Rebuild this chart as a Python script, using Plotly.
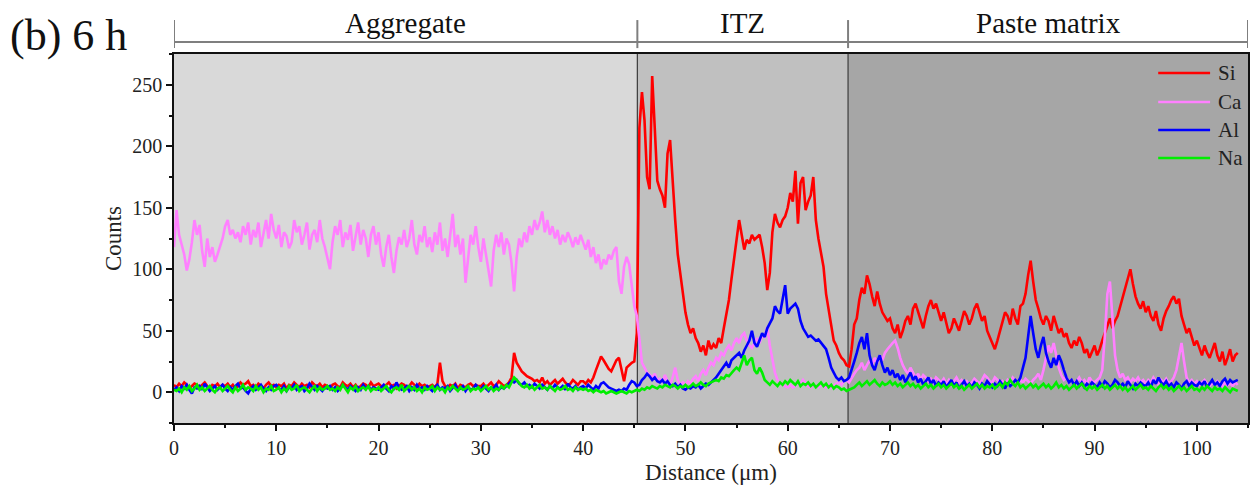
import plotly.graph_objects as go

# EDS line scan across aggregate / ITZ / paste, sampled every 0.25 um from 0 to 104 um
step_um = 0.25

si = [
    6, 4, 7, 5, 8, 6, 3, 5, 7, 6, 4, 6, 8, 5, 3, 6, 5, 7, 4, 6,
    5, 7, 4, 6, 3, 5, 8, 6, 7, 9, 5, 6, 4, 7, 5, 3, 6, 8, 5, 6,
    4, 6, 5, 7, 3, 6, 5, 8, 6, 4, 7, 5, 6, 4, 8, 6, 5, 7, 4, 6,
    5, 3, 6, 7, 5, 4, 8, 6, 5, 7, 4, 6, 3, 5, 7, 6, 4, 8, 5, 6,
    7, 5, 4, 6, 8, 5, 6, 3, 5, 7, 6, 4, 5, 8, 6, 4, 7, 5, 6, 4,
    5, 6, 4, 7, 24, 9, 5, 4, 6, 5, 7, 3, 6, 5, 4, 6, 7, 5, 6, 5,
    5, 7, 4, 6, 8, 5, 6, 9, 7, 5, 6, 8, 12, 32, 24, 20, 17, 15, 13, 12,
    11, 9, 10, 8, 12, 7, 9, 6, 8, 10, 7, 9, 11, 8, 6, 7, 10, 8, 6, 9,
    9, 7, 10, 8, 12, 18, 24, 29, 26, 22, 19, 17, 22, 26, 28, 18, 9, 20, 22, 24,
    25, 48, 215, 244, 221, 175, 165, 257, 215, 172, 165, 160, 150, 194, 205, 170, 140, 112, 95, 78,
    65, 55, 48, 52, 44, 40, 33, 38, 30, 42, 35, 39, 36, 44, 40, 52, 62, 75, 92, 108,
    126, 140, 128, 116, 124, 121, 128, 124, 126, 128, 118, 105, 83, 97, 130, 145, 138, 134, 140, 143,
    150, 162, 155, 180, 137, 170, 175, 148, 155, 160, 175, 140, 125, 113, 102, 80, 68, 55, 42, 38,
    32, 28, 26, 22, 21, 35, 55, 60, 75, 85, 80, 95, 88, 78, 70, 82, 72, 65, 62, 58,
    60, 52, 48, 55, 44, 50, 58, 62, 55, 68, 72, 65, 60, 52, 62, 70, 75, 68, 72, 64,
    58, 65, 55, 48, 52, 60, 55, 50, 58, 66, 62, 55, 60, 68, 72, 65, 58, 62, 50, 45,
    40, 35, 42, 50, 58, 65, 62, 55, 68, 60, 55, 70, 72, 80, 95, 107, 90, 75, 68, 60,
    55, 62, 58, 50, 62, 55, 48, 52, 45, 48, 40, 36, 42, 38, 45, 40, 32, 35, 28, 33,
    38, 30, 35, 42, 48, 55, 60, 52, 58, 62, 70, 78, 85, 92, 100, 88, 78, 72, 68, 74,
    65, 70, 62, 58, 66, 55, 50, 60, 66, 70, 75, 78, 72, 76, 62, 55, 48, 52, 45, 38,
    42, 35, 30, 38, 32, 28, 35, 40, 30, 25, 33, 22, 28, 35, 25, 30, 32,
]

ca = [
    118, 148, 128, 120, 112, 99, 108, 122, 140, 128, 136, 115, 102, 125, 110, 118, 106, 112, 118, 125,
    135, 140, 128, 132, 125, 130, 122, 135, 128, 138, 120, 132, 126, 138, 118, 130, 140, 125, 145, 132,
    125, 136, 118, 130, 127, 117, 122, 140, 130, 135, 120, 128, 138, 116, 128, 132, 122, 140, 125, 118,
    110, 100, 122, 135, 128, 140, 118, 130, 124, 136, 115, 128, 138, 120, 132, 125, 110, 128, 135, 120,
    130, 112, 102, 118, 128, 110, 97, 115, 126, 120, 132, 118, 125, 140, 120, 112, 128, 122, 135, 118,
    126, 114, 130, 120, 138, 115, 125, 110, 130, 145, 118, 128, 112, 125, 89, 110, 128, 120, 135, 118,
    106, 125, 112, 98, 86, 115, 128, 118, 130, 112, 125, 120, 105, 82, 110, 125, 118, 130, 122, 135,
    128, 140, 132, 138, 147, 130, 140, 128, 135, 125, 132, 120, 128, 122, 130, 125, 118, 126, 120, 128,
    122, 116, 124, 110, 118, 105, 112, 100, 108, 104, 112, 108, 115, 118, 90, 80, 102, 110, 104, 86,
    70, 62, 40, 24, 20, 16, 14, 12, 15, 9, 11, 8, 14, 9, 6, 12, 20, 10, 6, 8,
    6, 9, 7, 11, 13, 9, 15, 18, 14, 20, 24, 22, 28, 26, 32, 30, 35, 38, 34, 40,
    44, 40, 46, 48, 42, 38, 36, 40, 44, 40, 46, 45, 53, 38, 26, 16, 10, 8, 6, 5,
    4, 6, 4, 5, 8, 6, 10, 7, 5, 4, 6, 5, 4, 6, 5, 4, 6, 4, 5, 7,
    8, 6, 9, 10, 8, 12, 15, 18, 20, 24, 18, 22, 26, 22, 28, 24, 30, 26, 32, 35,
    38, 40, 42, 36, 28, 22, 18, 15, 20, 16, 12, 15, 10, 14, 12, 9, 11, 8, 12, 10,
    8, 11, 7, 10, 6, 9, 12, 8, 10, 7, 9, 6, 8, 11, 9, 7, 10, 14, 12, 9,
    8, 12, 10, 7, 9, 6, 10, 8, 12, 9, 7, 10, 8, 11, 9, 7, 10, 12, 15, 10,
    18, 28, 38, 32, 40, 30, 20, 14, 10, 12, 8, 10, 7, 9, 12, 8, 10, 7, 12, 9,
    8, 10, 12, 18, 45, 80, 90, 60, 30, 18, 12, 15, 10, 12, 8, 11, 9, 12, 8, 10,
    7, 10, 8, 12, 9, 6, 10, 8, 11, 7, 9, 12, 18, 30, 40, 25, 12, 8, 10, 7,
    9, 6, 8, 10, 7, 5, 8, 6, 9, 7, 5, 8, 6, 7, 5, 8, 6,
]

al = [
    2, 4, 1, 5, 3, 6, 2, -1, 4, 3, 5, 2, 7, 4, 1, 3, 5, 2, 4, 6,
    3, 1, 4, 2, 5, 7, 3, 4, 1, -1, 3, 5, 2, 4, 6, 3, 1, 4, 2, 5,
    6, 3, 2, 5, 1, 4, 3, 6, 2, 4, 5, 1, 3, 7, 4, 2, 5, 3, 1, 4,
    3, 5, 2, 4, 1, 3, 6, 4, 2, 5, 3, 1, 4, 2, 6, 3, 5, 2, 4, 3,
    2, 4, 6, 3, 1, 5, 3, 8, 4, 2, 3, 5, 1, 4, 2, 6, 3, 4, 2, 5,
    3, 1, 4, 6, 2, 4, 3, 5, 1, 4, 6, 2, 3, 5, 1, 4, 2, 3, 6, 4,
    2, 5, 3, 1, 4, 3, 6, 2, 4, 3, 5, 7, 9, 8, 10, 7, 6, 8, 5, 6,
    4, 7, 5, 3, 6, 4, 2, 5, 3, 6, 4, 3, 5, 2, 7, 4, 3, 5, 2, 4,
    5, 3, 6, 4, 2, 5, 3, 7, 8, 6, 4, 3, 2, 1, 2, 1, 3, 2, 6, 9,
    8, 5, 6, 10, 12, 15, 13, 10, 12, 9, 8, 10, 7, 9, 6, 5, 7, 4, 6, 3,
    2, 4, 3, 5, 4, 6, 3, 5, 7, 6, 8, 10, 12, 15, 18, 22, 24, 20, 26, 28,
    30, 32, 28, 34, 38, 42, 50, 40, 37, 42, 48, 45, 52, 56, 60, 70, 66, 64, 75, 87,
    64, 68, 70, 72, 68, 58, 52, 48, 45, 46, 44, 42, 43, 40, 38, 35, 28, 20, 16, 12,
    10, 12, 9, 10, 12, 18, 25, 32, 40, 45, 35, 48, 30, 22, 18, 25, 30, 22, 16, 20,
    14, 18, 12, 15, 10, 14, 8, 12, 16, 10, 13, 8, 11, 6, 9, 12, 7, 10, 5, 8,
    6, 9, 4, 7, 10, 5, 8, 3, 6, 9, 5, 7, 4, 8, 6, 3, 7, 5, 9, 6,
    4, 7, 5, 9, 6, 3, 8, 5, 7, 10, 8, 12, 20, 28, 45, 62, 48, 35, 28, 38,
    45, 32, 25, 20, 28, 22, 30, 25, 18, 12, 8, 10, 6, 9, 5, 8, 4, 7, 5, 8,
    6, 4, 8, 5, 9, 7, 4, 6, 10, 8, 5, 7, 4, 9, 6, 3, 7, 5, 8, 6,
    5, 8, 4, 10, 7, 12, 8, 6, 9, 5, 7, 4, 8, 6, 3, 7, 9, 5, 8, 6,
    5, 8, 6, 9, 4, 7, 10, 6, 8, 5, 9, 11, 7, 10, 8, 9, 10,
]

na = [
    2, 1, 3, 0, 4, 2, 5, 1, 3, 6, 2, 4, 1, 3, 5, 2, 0, 3, 4, 1,
    3, 5, 2, 0, 4, 1, 3, 6, 2, 4, 3, 1, 5, 2, 4, 0, 3, 2, 5, 1,
    2, 4, 0, 3, 1, 5, 2, 3, 6, 1, 3, 4, 2, 0, 3, 5, 1, 4, 2, 3,
    5, 2, 3, 1, 4, 2, 6, 3, 0, 4, 2, 5, 1, 3, 4, 2, 5, 1, 3, 2,
    4, 1, 3, 5, 2, 0, 3, 4, 2, 6, 1, 3, 5, 2, 4, 1, 3, 0, 4, 2,
    3, 5, 1, 4, 2, 3, 0, 4, 2, 5, 3, 1, 4, 2, 3, 5, 1, 3, 2, 4,
    1, 3, 5, 2, 4, 1, 3, 2, 5, 3, 6, 4, 8, 12, 10, 7, 5, 4, 6, 3,
    5, 2, 4, 6, 3, 4, 2, 5, 3, 1, 4, 2, 3, 5, 2, 3, 1, 4, 2, 3,
    2, 3, 1, 2, 0, 2, 1, 0, 1, -1, 0, 1, 0, -1, 0, 1, 0, -1, 1, 0,
    1, 2, 1, 3, 2, 4, 3, 5, 4, 3, 5, 4, 6, 5, 4, 6, 5, 3, 5, 4,
    6, 4, 5, 7, 5, 6, 8, 6, 5, 7, 8, 9, 10, 9, 12, 11, 14, 13, 16, 18,
    20, 18, 24, 30, 22, 26, 28, 18, 15, 20, 16, 10, 8, 6, 9, 7, 5, 8, 6, 9,
    7, 10, 8, 6, 9, 5, 7, 6, 8, 5, 7, 4, 6, 8, 5, 7, 4, 6, 3, 5,
    4, 2, 3, 1, 2, 3, 4, 6, 8, 5, 7, 9, 6, 8, 10, 7, 5, 8, 6, 7,
    9, 6, 8, 5, 7, 4, 6, 8, 5, 7, 4, 6, 3, 5, 7, 4, 6, 3, 5, 7,
    4, 6, 3, 5, 7, 4, 6, 3, 5, 2, 4, 6, 3, 5, 7, 4, 6, 3, 5, 4,
    6, 3, 5, 7, 4, 8, 6, 10, 7, 5, 8, 4, 6, 3, 5, 7, 4, 6, 3, 5,
    7, 4, 6, 3, 5, 8, 4, 6, 3, 5, 2, 4, 6, 3, 5, 7, 4, 2, 5, 3,
    5, 2, 4, 6, 3, 5, 2, 4, 6, 3, 5, 2, 4, 1, 3, 5, 2, 4, 6, 3,
    4, 2, 5, 3, 1, 4, 6, 3, 5, 2, 4, 1, 3, 5, 2, 4, 1, 3, 5, 2,
    3, 1, 4, 2, 5, 3, 1, 4, 2, 3, 1, 4, 2, 0, 3, 2, 1,
]

distance = [i * step_um for i in range(len(si))]

# zone boundaries (um) and labels
zone_edges = [0, 45.3, 65.9, 105]
zone_names = ["Aggregate", "ITZ", "Paste matrix"]
zone_fills = ["#d9d9d9", "#c0c0c0", "#a6a6a6"]

series = [
    ("Si", si, "#ff0000"),
    ("Ca", ca, "#ff80ff"),
    ("Al", al, "#0000ff"),
    ("Na", na, "#00ee00"),
]

SERIF = "Liberation Serif, Times New Roman, serif"

fig = go.Figure()
for name, vals, color in series:
    fig.add_trace(go.Scatter(
        x=distance, y=vals, name=name, mode="lines",
        line=dict(color=color, width=2.6), showlegend=False,
    ))

shapes = []
for i, fill in enumerate(zone_fills):
    shapes.append(dict(type="rect", xref="x", yref="paper",
                       x0=zone_edges[i], x1=zone_edges[i + 1], y0=0, y1=1,
                       fillcolor=fill, line_width=0, layer="below"))
for edge in zone_edges[1:-1]:
    shapes.append(dict(type="line", xref="x", yref="paper",
                       x0=edge, x1=edge, y0=0, y1=1,
                       line=dict(color="#3a3a3a", width=1.2), layer="below"))

# bracket above the plot marking the zones
bracket_y = 1.0325
shapes.append(dict(type="line", xref="x", yref="paper",
                   x0=zone_edges[0], x1=zone_edges[-1], y0=bracket_y, y1=bracket_y,
                   line=dict(color="#7f7f7f", width=2)))
for edge in zone_edges:
    shapes.append(dict(type="line", xref="x", yref="paper",
                       x0=edge, x1=edge, y0=1.016, y1=1.092,
                       line=dict(color="#7f7f7f", width=2)))

annotations = []
for i, name in enumerate(zone_names):
    annotations.append(dict(text=name, xref="x", yref="paper",
                            x=(zone_edges[i] + zone_edges[i + 1]) / 2, y=1.084,
                            xanchor="center", yanchor="middle", showarrow=False,
                            font=dict(family=SERIF, size=29, color="#111")))
annotations.append(dict(text="(b) 6 h", xref="paper", yref="paper",
                        x=-0.0985, y=1.05, xanchor="center", yanchor="middle",
                        showarrow=False, font=dict(family=SERIF, size=44, color="#111")))

# legend drawn as short line samples with labels, top-right inside the plot
legend_x0, legend_x1, legend_text_x = 0.9164, 0.9647, 0.9703
legend_rows = [0.9485, 0.8699, 0.7940, 0.7182]
for (name, _, color), ly in zip(series, legend_rows):
    shapes.append(dict(type="line", xref="paper", yref="paper",
                       x0=legend_x0, x1=legend_x1, y0=ly, y1=ly,
                       line=dict(color=color, width=2.6)))
    annotations.append(dict(text=name, xref="paper", yref="paper",
                            x=legend_text_x, y=ly, xanchor="left", yanchor="middle",
                            showarrow=False, font=dict(family=SERIF, size=21, color="#222")))

fig.update_layout(
    width=1258, height=490,
    margin=dict(l=174, r=8, t=54, b=67),
    paper_bgcolor="white", plot_bgcolor="white",
    shapes=shapes, annotations=annotations,
    font=dict(family=SERIF, size=20, color="#222"),
    showlegend=False,
)
fig.update_xaxes(
    range=[0, 105], tickvals=list(range(0, 101, 10)),
    ticks="outside", ticklen=6, tickwidth=1.5, tickcolor="#111",
    minor=dict(dtick=5, tick0=0, ticks="outside", ticklen=3, tickwidth=1.5, tickcolor="#111"),
    showline=True, linecolor="#111", linewidth=1.5, mirror=True,
    showgrid=False, zeroline=False,
    title=dict(text="Distance (μm)", font=dict(family=SERIF, size=23, color="#222"), standoff=6),
)
fig.update_yaxes(
    range=[-25, 275], tickvals=[0, 50, 100, 150, 200, 250],
    ticks="outside", ticklen=6, tickwidth=1.5, tickcolor="#111",
    minor=dict(dtick=25, tick0=0, ticks="outside", ticklen=3, tickwidth=1.5, tickcolor="#111"),
    showline=True, linecolor="#111", linewidth=1.5, mirror=True,
    showgrid=False, zeroline=False,
    title=dict(text="Counts", font=dict(family=SERIF, size=23, color="#222"), standoff=4),
)

fig.write_html("out.html")
